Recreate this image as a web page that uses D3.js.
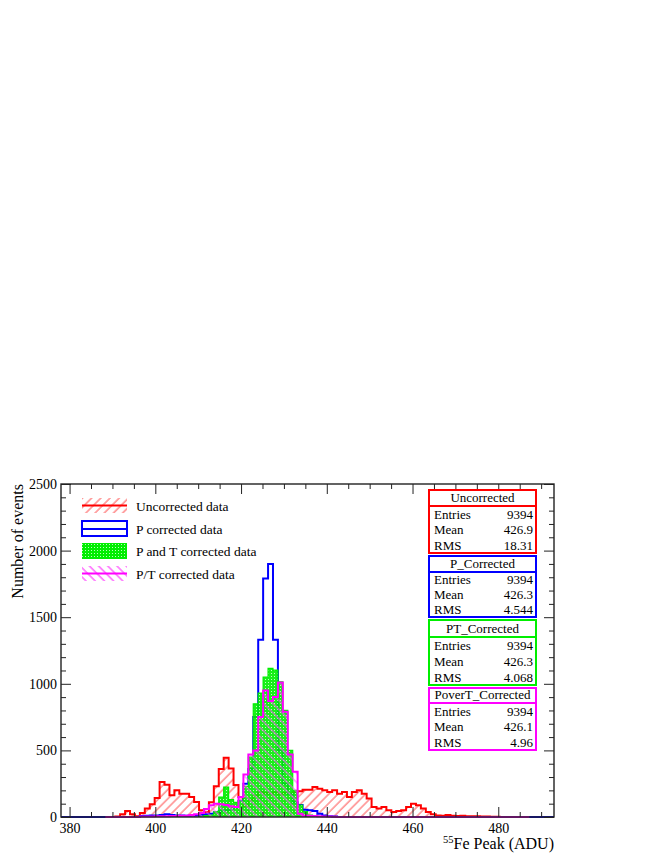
<!DOCTYPE html>
<html><head><meta charset="utf-8">
<script src="https://cdn.jsdelivr.net/npm/d3@7"></script>
<style>body{margin:0;background:#fff} svg{display:block} text{font-family:"Liberation Serif","Times New Roman",serif;fill:#000}</style>
</head><body><svg id="c" width="664" height="860"></svg>
<script>
// ---- binning ----
const binLow = 378, binHigh = 493, nBins = 100;
// ---- series (counts per bin, 100 bins) ----
const uncorrected = [
 0,0,0,0,0,0,0,0,0,0,
 0,3,20,45,20,5,30,63,95,143,
 263,243,163,200,175,175,150,113,50,38,
 110,230,360,445,365,240,150,80,130,160,
 190,180,175,185,170,180,175,185,193,205,
 205,225,213,200,188,200,175,188,150,188,
 200,175,138,75,63,75,50,38,45,50,
 75,100,88,63,38,20,12,10,15,10,
 8,10,5,5,5,3,3,2,2,0,
 0,0,0,0,0,0,0,0,0,0];
const pCorrected = [
 0,0,0,0,0,0,0,0,0,0,
 0,0,0,0,0,0,8,10,12,12,
 15,20,15,12,12,10,10,12,15,20,
 25,35,45,50,55,70,120,250,360,750,
 1330,1790,1900,1330,500,250,170,110,90,55,
 50,45,25,12,6,4,0,0,0,0,
 0,0,0,0,0,0,0,0,0,0,
 0,0,0,0,0,0,0,0,0,0,
 0,0,0,0,0,0,0,0,0,0,
 0,0,0,0,0,0,0,0,0,0];
const ptCorrected = [
 0,0,0,0,0,0,0,0,0,0,
 0,0,0,0,0,0,0,0,0,0,
 0,0,0,0,0,0,0,0,5,10,
 15,40,150,225,130,110,120,230,450,850,
 930,1050,1116,1103,1015,800,500,200,90,40,
 15,5,0,0,0,0,0,0,0,0,
 0,0,0,0,0,0,0,0,0,0,
 0,0,0,0,0,0,0,0,0,0,
 0,0,0,0,0,0,0,0,0,0,
 0,0,0,0,0,0,0,0,0,0];
const povertCorrected = [
 0,0,0,0,0,0,0,0,0,0,
 0,0,0,0,0,0,3,3,3,5,
 5,5,8,8,10,10,15,20,30,60,
 88,100,95,90,80,75,150,320,470,500,
 750,950,870,900,1010,790,470,340,25,12,
 10,8,5,4,3,2,0,0,0,0,
 0,0,0,0,0,0,0,0,0,0,
 0,0,0,0,0,0,0,0,0,0,
 0,0,0,0,0,0,0,0,0,0,
 0,0,0,0,0,0,0,0,0,0];
const povertRange = [9, 95]; // bins drawn for P/T histogram
// ---- labels ----
const xTicks = [380, 400, 420, 440, 460, 480];
const yTicks = [0, 500, 1000, 1500, 2000, 2500];
const legendLabels = ["Uncorrected data", "P corrected data", "P and T corrected data", "P/T corrected data"];
const statTitles = ["Uncorrected", "P_Corrected", "PT_Corrected", "PoverT_Corrected"];
const statEntries = ["9394", "9394", "9394", "9394"];
const statMeans = ["426.9", "426.3", "426.3", "426.1"];
const statRMS = ["18.31", "4.544", "4.068", "4.96"];
const colors = ["#ff0000", "#0000ff", "#00ee00", "#ff00ff"];

const svg = d3.select("#c");
const L = 61, R = 554, T = 484, B = 817;
const x = d3.scaleLinear().domain([binLow, binHigh]).range([L, R]);
const y = d3.scaleLinear().domain([0, 2500]).range([B, T]);
const bw = (binHigh - binLow) / nBins;

const defs = svg.append("defs");
function hatch(id, color, angle) {
  const p = defs.append("pattern").attr("id", id).attr("patternUnits", "userSpaceOnUse")
    .attr("width", 6.5).attr("height", 6.5).attr("patternTransform", `rotate(${angle})`);
  p.append("line").attr("x1", 1).attr("y1", 0).attr("x2", 1).attr("y2", 6.5)
    .attr("stroke", color).attr("stroke-width", 1.3);
}
hatch("hRed", "#ff7878", 45);
hatch("hMag", "#ff50ff", -45);
const gp = defs.append("pattern").attr("id", "gFill").attr("patternUnits", "userSpaceOnUse").attr("width", 3).attr("height", 3);
gp.append("rect").attr("width", 3).attr("height", 3).attr("fill", "#00ee00");
gp.append("rect").attr("x", 1).attr("y", 1).attr("width", 1).attr("height", 1).attr("fill", "#b8ffb8");

function histPath(vals, k0, k1) {
  const pts = [[binLow + k0 * bw, 0]];
  for (let k = k0; k < k1; k++) pts.push([binLow + k * bw, vals[k]]);
  pts.push([binLow + k1 * bw, 0]);
  return d3.line().x(d => x(d[0])).y(d => y(d[1])).curve(d3.curveStepAfter)(pts);
}
function firstLast(vals) {
  let a = vals.findIndex(v => v > 0), b = vals.length - 1;
  while (b > 0 && vals[b] === 0) b--;
  return [a, b + 1];
}

const plot = svg.append("g");
// Uncorrected
plot.append("path").attr("d", histPath(uncorrected, 0, nBins)).attr("fill", "url(#hRed)").attr("stroke", "none");
plot.append("path").attr("d", histPath(uncorrected, 0, nBins)).attr("fill", "none").attr("stroke", colors[0]).attr("stroke-width", 2);
// P corrected
plot.append("path").attr("d", histPath(pCorrected, 0, nBins)).attr("fill", "none").attr("stroke", colors[1]).attr("stroke-width", 2);
// PT corrected
const [g0, g1] = firstLast(ptCorrected);
plot.append("path").attr("d", histPath(ptCorrected, g0, g1)).attr("fill", "url(#gFill)").attr("fill-opacity", 0.9).attr("stroke", colors[2]).attr("stroke-width", 1.2);
// P/T corrected
plot.append("path").attr("d", histPath(povertCorrected, povertRange[0], povertRange[1])).attr("fill", "url(#hMag)").attr("fill-opacity", 0.75).attr("stroke", "none");
plot.append("path").attr("d", histPath(povertCorrected, povertRange[0], povertRange[1])).attr("fill", "none").attr("stroke", colors[3]).attr("stroke-width", 2);

// ---- axes ----
const axCol = "#222";
const xMinor = d3.range(380, 493, 5).filter(v => !xTicks.includes(v));
const yMinor = d3.range(0, 2501, 100).filter(v => !yTicks.includes(v));
function styleAxis(g) { g.select(".domain").remove(); g.selectAll("line").attr("stroke", axCol); g.selectAll("text").attr("font-family", "Liberation Serif").attr("font-size", 14).attr("fill", "#000"); }
svg.append("g").attr("transform", `translate(0,${B})`).call(d3.axisBottom(x).tickValues(xTicks).tickSize(-10).tickPadding(6).tickFormat(d3.format("d"))).call(styleAxis);
svg.append("g").attr("transform", `translate(0,${B})`).call(d3.axisBottom(x).tickValues(xMinor).tickSize(-5).tickFormat("")).call(styleAxis);
svg.append("g").attr("transform", `translate(0,${T})`).call(d3.axisTop(x).tickValues(xTicks).tickSize(-10).tickFormat("")).call(styleAxis);
svg.append("g").attr("transform", `translate(0,${T})`).call(d3.axisTop(x).tickValues(xMinor).tickSize(-5).tickFormat("")).call(styleAxis);
svg.append("g").attr("transform", `translate(${L},0)`).call(d3.axisLeft(y).tickValues(yTicks).tickSize(-10).tickPadding(4).tickFormat(d3.format("d"))).call(styleAxis);
svg.append("g").attr("transform", `translate(${L},0)`).call(d3.axisLeft(y).tickValues(yMinor).tickSize(-5).tickFormat("")).call(styleAxis);
svg.append("g").attr("transform", `translate(${R},0)`).call(d3.axisRight(y).tickValues(yTicks).tickSize(-10).tickFormat("")).call(styleAxis);
svg.append("g").attr("transform", `translate(${R},0)`).call(d3.axisRight(y).tickValues(yMinor).tickSize(-5).tickFormat("")).call(styleAxis);
svg.append("rect").attr("x", L).attr("y", T).attr("width", R - L).attr("height", B - T).attr("fill", "none").attr("stroke", "#222").attr("stroke-width", 1.4);

// axis titles
svg.append("text").attr("transform", `translate(23,${T}) rotate(-90)`).attr("text-anchor", "end").attr("font-size", 16).text("Number of events");
const xt = svg.append("text").attr("x", R).attr("y", 849).attr("text-anchor", "end").attr("font-size", 16);
xt.append("tspan").attr("font-size", 10.5).attr("dy", -6).text("55");
xt.append("tspan").attr("dy", 6).text("Fe Peak (ADU)");

// ---- legend ----
const legY = [498, 521, 543, 566];
const lg = svg.append("g");
legendLabels.forEach((lab, i) => {
  const yy = legY[i];
  if (i === 0) {
    lg.append("rect").attr("x", 82).attr("y", yy).attr("width", 45).attr("height", 15).attr("fill", "url(#hRed)");
    lg.append("line").attr("x1", 82).attr("x2", 127).attr("y1", yy + 7.5).attr("y2", yy + 7.5).attr("stroke", colors[0]).attr("stroke-width", 2);
  } else if (i === 1) {
    lg.append("rect").attr("x", 82).attr("y", yy).attr("width", 45).attr("height", 15).attr("fill", "none").attr("stroke", colors[1]).attr("stroke-width", 2);
    lg.append("line").attr("x1", 82).attr("x2", 127).attr("y1", yy + 8).attr("y2", yy + 8).attr("stroke", colors[1]).attr("stroke-width", 2);
  } else if (i === 2) {
    lg.append("rect").attr("x", 82).attr("y", yy).attr("width", 45).attr("height", 16).attr("fill", "url(#gFill)");
  } else {
    lg.append("rect").attr("x", 82).attr("y", yy).attr("width", 45).attr("height", 15).attr("fill", "url(#hMag)");
    lg.append("line").attr("x1", 82).attr("x2", 127).attr("y1", yy + 7.5).attr("y2", yy + 7.5).attr("stroke", colors[3]).attr("stroke-width", 2);
  }
  lg.append("text").attr("x", 136).attr("y", yy + 12.5).attr("font-size", 13.5).text(lab);
});

// ---- stat boxes ----
const boxTop = [490, 556, 620, 688], boxBot = [553, 617, 685, 750], boxDiv = [506, 572, 637, 703];
const sb = svg.append("g");
statTitles.forEach((t, i) => {
  sb.append("rect").attr("x", 429).attr("y", boxTop[i]).attr("width", 107).attr("height", boxBot[i] - boxTop[i]).attr("fill", "#fff").attr("stroke", colors[i]).attr("stroke-width", 2);
  sb.append("line").attr("x1", 429).attr("x2", 536).attr("y1", boxDiv[i]).attr("y2", boxDiv[i]).attr("stroke", colors[i]).attr("stroke-width", 2);
  sb.append("text").attr("x", 482.5).attr("y", boxDiv[i] - 4).attr("text-anchor", "middle").attr("font-size", 13).text(t);
  const rh = (boxBot[i] - boxDiv[i]) / 3;
  [["Entries", statEntries[i]], ["Mean", statMeans[i]], ["RMS", statRMS[i]]].forEach((r, j) => {
    const yy = boxDiv[i] + rh * (j + 1) - 3;
    sb.append("text").attr("x", 434).attr("y", yy).attr("font-size", 13).text(r[0]);
    sb.append("text").attr("x", 533).attr("y", yy).attr("text-anchor", "end").attr("font-size", 13).text(r[1]);
  });
});
</script></body></html>
